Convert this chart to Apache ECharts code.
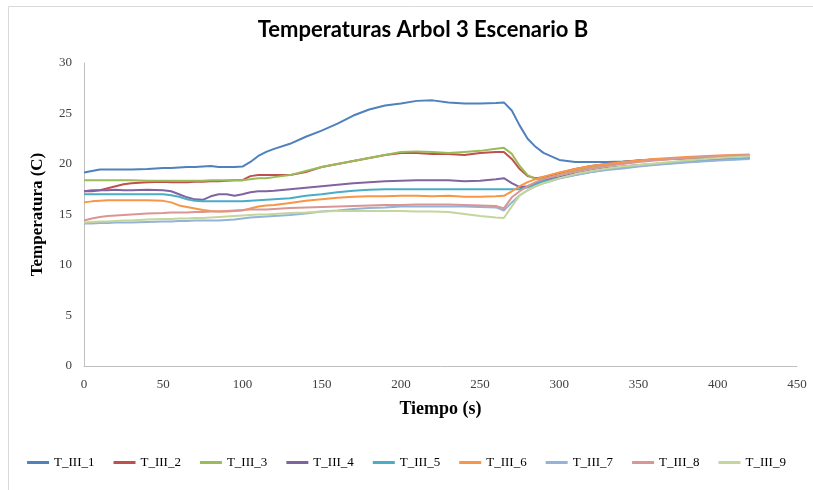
<!DOCTYPE html>
<html>
<head>
<meta charset="utf-8">
<script src="https://cdn.jsdelivr.net/npm/echarts@6/dist/echarts.min.js"></script>
<style>html,body{margin:0;padding:0;background:#fff;}#chart{width:813px;height:490px;}</style>
</head>
<body>
<div id="chart"></div>
<script>
const titleText = 'Temperaturas Arbol 3 Escenario B';
const xName = 'Tiempo (s)';
const yName = 'Temperatura (C)';
const seriesNames = ['T_III_1','T_III_2','T_III_3','T_III_4','T_III_5','T_III_6','T_III_7','T_III_8','T_III_9'];
const times = [0,5,10,15,20,25,30,40,50,55,60,65,70,75,80,85,90,95,100,105,110,115,120,130,140,150,160,170,180,190,200,210,220,230,240,250,260,265,270,275,280,285,290,300,310,320,330,340,350,360,380,400,420];

const t1 = [19.15,19.3,19.45,19.45,19.45,19.45,19.45,19.5,19.6,19.6,19.65,19.7,19.7,19.75,19.8,19.7,19.7,19.7,19.75,20.2,20.8,21.2,21.5,22.0,22.7,23.3,24.0,24.8,25.4,25.8,26.0,26.25,26.3,26.1,26.0,26.0,26.05,26.1,25.3,23.8,22.5,21.7,21.1,20.4,20.2,20.2,20.2,20.25,20.35,20.45,20.55,20.6,20.6];
const t2 = [17.3,17.3,17.4,17.6,17.8,18.0,18.1,18.2,18.25,18.2,18.2,18.2,18.25,18.25,18.3,18.3,18.35,18.4,18.4,18.8,18.9,18.9,18.9,18.9,19.2,19.7,20.0,20.3,20.6,20.9,21.1,21.1,21.0,21.0,20.9,21.1,21.2,21.2,20.5,19.5,18.8,18.6,18.7,19.1,19.5,19.8,20.0,20.2,20.35,20.45,20.6,20.75,20.85];
const t3 = [18.4,18.4,18.4,18.4,18.4,18.4,18.4,18.35,18.35,18.35,18.35,18.35,18.35,18.35,18.4,18.4,18.4,18.4,18.4,18.5,18.6,18.6,18.7,18.9,19.3,19.7,20.0,20.3,20.6,20.9,21.2,21.25,21.2,21.1,21.2,21.3,21.5,21.6,21.0,19.8,18.9,18.5,18.55,18.9,19.3,19.7,19.95,20.1,20.3,20.4,20.6,20.75,20.85];
const t4 = [17.3,17.4,17.4,17.4,17.45,17.4,17.4,17.45,17.4,17.3,17.0,16.7,16.5,16.45,16.8,17.0,17.0,16.85,17.0,17.2,17.3,17.3,17.35,17.5,17.65,17.8,17.95,18.1,18.2,18.3,18.35,18.4,18.4,18.4,18.3,18.35,18.5,18.6,18.1,17.7,17.8,18.1,18.4,18.7,19.05,19.35,19.6,19.75,19.9,20.0,20.25,20.45,20.6];
const t5 = [17.0,17.0,17.0,17.0,17.0,17.0,17.0,17.0,17.0,16.9,16.75,16.5,16.35,16.3,16.3,16.3,16.3,16.3,16.3,16.35,16.4,16.45,16.5,16.6,16.85,17.0,17.2,17.35,17.45,17.5,17.5,17.5,17.5,17.5,17.5,17.5,17.5,17.5,17.5,17.5,17.7,18.0,18.3,18.6,18.9,19.2,19.45,19.65,19.8,19.95,20.2,20.4,20.55];
const t6 = [16.2,16.3,16.35,16.4,16.4,16.4,16.4,16.4,16.35,16.2,15.9,15.75,15.6,15.45,15.35,15.3,15.3,15.35,15.4,15.6,15.8,15.9,15.95,16.15,16.35,16.5,16.65,16.75,16.8,16.8,16.85,16.85,16.8,16.85,16.75,16.75,16.8,16.85,17.3,17.8,18.2,18.5,18.75,19.15,19.5,19.8,20.0,20.2,20.35,20.5,20.7,20.85,20.95];
const t7 = [14.1,14.1,14.15,14.15,14.2,14.2,14.2,14.25,14.3,14.3,14.35,14.35,14.4,14.4,14.4,14.4,14.45,14.5,14.6,14.7,14.75,14.8,14.85,14.95,15.1,15.3,15.4,15.55,15.65,15.7,15.8,15.8,15.8,15.8,15.8,15.75,15.7,15.4,16.2,16.9,17.4,17.8,18.1,18.55,18.9,19.2,19.4,19.55,19.75,19.9,20.15,20.35,20.5];
const t8 = [14.4,14.6,14.75,14.85,14.9,14.95,15.0,15.1,15.15,15.2,15.2,15.2,15.25,15.25,15.3,15.3,15.35,15.4,15.45,15.5,15.5,15.5,15.55,15.65,15.7,15.75,15.8,15.85,15.9,15.95,15.95,16.0,16.0,16.0,15.95,15.9,15.85,15.6,16.7,17.3,17.8,18.2,18.5,18.9,19.25,19.55,19.8,20.0,20.2,20.35,20.6,20.8,20.9];
const t9 = [14.2,14.25,14.3,14.3,14.35,14.4,14.4,14.5,14.55,14.55,14.6,14.6,14.65,14.65,14.7,14.75,14.8,14.85,14.9,14.95,15.0,15.0,15.05,15.15,15.2,15.3,15.35,15.35,15.35,15.35,15.35,15.3,15.3,15.25,15.05,14.85,14.7,14.65,15.8,16.9,17.4,17.8,18.1,18.6,19.0,19.3,19.55,19.75,19.9,20.05,20.35,20.6,20.75];

const seriesValues = [t1,t2,t3,t4,t5,t6,t7,t8,t9];
const colors = ['#4F81BD','#C0504D','#9BBB59','#8064A2','#4BACC6','#F79646','#95B3D7','#D99694','#C3D69B'];

const chart = echarts.init(document.getElementById('chart'), null, {renderer:'canvas'});
const serif = '"Liberation Serif", "Times New Roman", serif';
chart.setOption({
  animation: false,
  backgroundColor: '#fff',
  color: colors,
  graphic: [{
    type: 'rect', left: 6, top: 4, shape: {x:0, y:0, width: 830, height: 520},
    style: {fill: 'none', stroke: '#d9d9d9', lineWidth: 1}, silent: true, z: -10
  }],
  title: {
    text: titleText, left: 418, textAlign: 'center', top: 14,
    textStyle: {fontFamily: 'Lato, "Open Sans", sans-serif', fontWeight: 'bold', fontSize: 22, color: '#000'}
  },
  legend: {
    data: seriesNames, bottom: 16, left: 'center',
    itemWidth: 22, itemHeight: 3, itemGap: 19,
    icon: 'rect',
    textStyle: {fontFamily: serif, fontSize: 13, color: '#000'}
  },
  grid: {left: 84, right: 16, top: 63, bottom: 124, containLabel: false},
  xAxis: {
    type: 'value', min: 0, max: 450, interval: 50,
    name: xName, nameLocation: 'middle', nameGap: 34,
    nameTextStyle: {fontFamily: serif, fontWeight: 'bold', fontSize: 18, color: '#000'},
    axisLine: {show: true, lineStyle: {color: '#bfbfbf', width: 1}},
    axisTick: {show: false},
    splitLine: {show: false},
    axisLabel: {fontFamily: serif, fontSize: 13, color: '#404040', margin: 12}
  },
  yAxis: {
    type: 'value', min: 0, max: 30, interval: 5,
    name: yName, nameLocation: 'middle', nameGap: 38,
    nameTextStyle: {fontFamily: serif, fontWeight: 'bold', fontSize: 17, color: '#000'},
    axisLine: {show: true, lineStyle: {color: '#bfbfbf', width: 1}},
    axisTick: {show: false},
    splitLine: {show: false},
    axisLabel: {fontFamily: serif, fontSize: 13, color: '#404040', margin: 12}
  },
  series: seriesNames.map((n, i) => ({
    name: n, type: 'line', symbol: 'none', smooth: false,
    lineStyle: {width: 2, color: colors[i]},
    itemStyle: {color: colors[i]},
    data: times.map((t, j) => [t, seriesValues[i][j]])
  }))
});
</script>
</body>
</html>
